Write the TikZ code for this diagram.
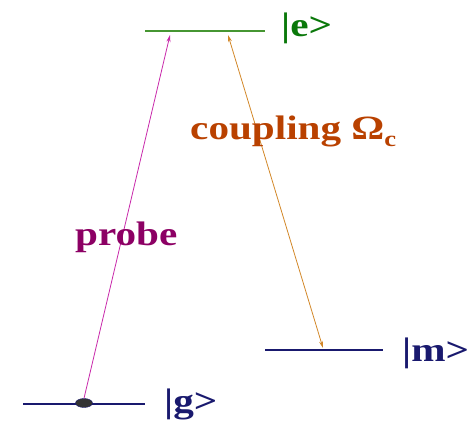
\documentclass[tikz,border=0pt]{standalone}
\usepackage{fontspec}
\setmainfont{Liberation Serif}
\usetikzlibrary{arrows.meta,shapes.geometric}

\definecolor{levgreen}{RGB}{70,150,50}
\definecolor{txtgreen}{RGB}{10,120,10}
\definecolor{levblue}{RGB}{25,25,110}
\definecolor{probecol}{RGB}{200,40,170}
\definecolor{probetxt}{RGB}{140,0,100}
\definecolor{coupcol}{RGB}{210,135,40}
\definecolor{couptxt}{RGB}{185,65,0}

\begin{document}
\begin{tikzpicture}[x=1pt,y=-1pt]

% --------------------
% Parameters
% --------------------
\def\txtsize{34}  % label font size
\def\txtstretch{1.21} % horizontal stretch of labels

\tikzset{
  level/.style={line width=1.6pt},
  ket/.style={font=\bfseries\fontsize{\txtsize}{40}\selectfont, xscale=\txtstretch, transform shape, inner sep=0pt, anchor=base west},
  tag/.style={ket},
  arrow/.style={{Stealth[length=7pt,width=4pt]}-{Stealth[length=7pt,width=4pt]}, line width=0.8pt},
  onearrow/.style={-{Stealth[length=7pt,width=4pt]}, line width=0.8pt}
}

\useasboundingbox (0,0) rectangle (476,423);

% --------------------
% Levels
% --------------------
\coordinate (eL) at (145,31);
\coordinate (eR) at (265,31);
\coordinate (mL) at (265,350);
\coordinate (mR) at (383,350);
\coordinate (gL) at (23,404);
\coordinate (gR) at (145,404);

\draw[level, levgreen] (eL) -- (eR);
\draw[level, levblue] (mL) -- (mR);
\draw[level, levblue] (gL) -- (gR);

\node[ket, text=txtgreen] (e) at (281,36) {|e>};
\node[ket, text=levblue] (m) at (402,361) {|m>};
\node[ket, text=levblue] (g) at (164,412) {|g>};

% population in |g>
\node[ellipse, draw=levblue, fill=black!80, minimum width=17pt, minimum height=9pt, inner sep=0pt] (dot) at (84,403) {};

% --------------------
% Transitions
% --------------------
\coordinate (ptop) at (170,35);
\coordinate (ctop) at (228,35);
\coordinate (cbot) at (323,348);

\draw[onearrow, probecol] (dot.north) -- (ptop);
\draw[arrow, coupcol] (ctop) -- (cbot);

\node[tag, text=probetxt] (probe) at (75,245) {probe};
\node[tag, text=couptxt] (coupling) at (190,139) {coupling Ω\raisebox{-7pt}{\fontsize{22}{24}\selectfont c}};

\end{tikzpicture}
\end{document}
